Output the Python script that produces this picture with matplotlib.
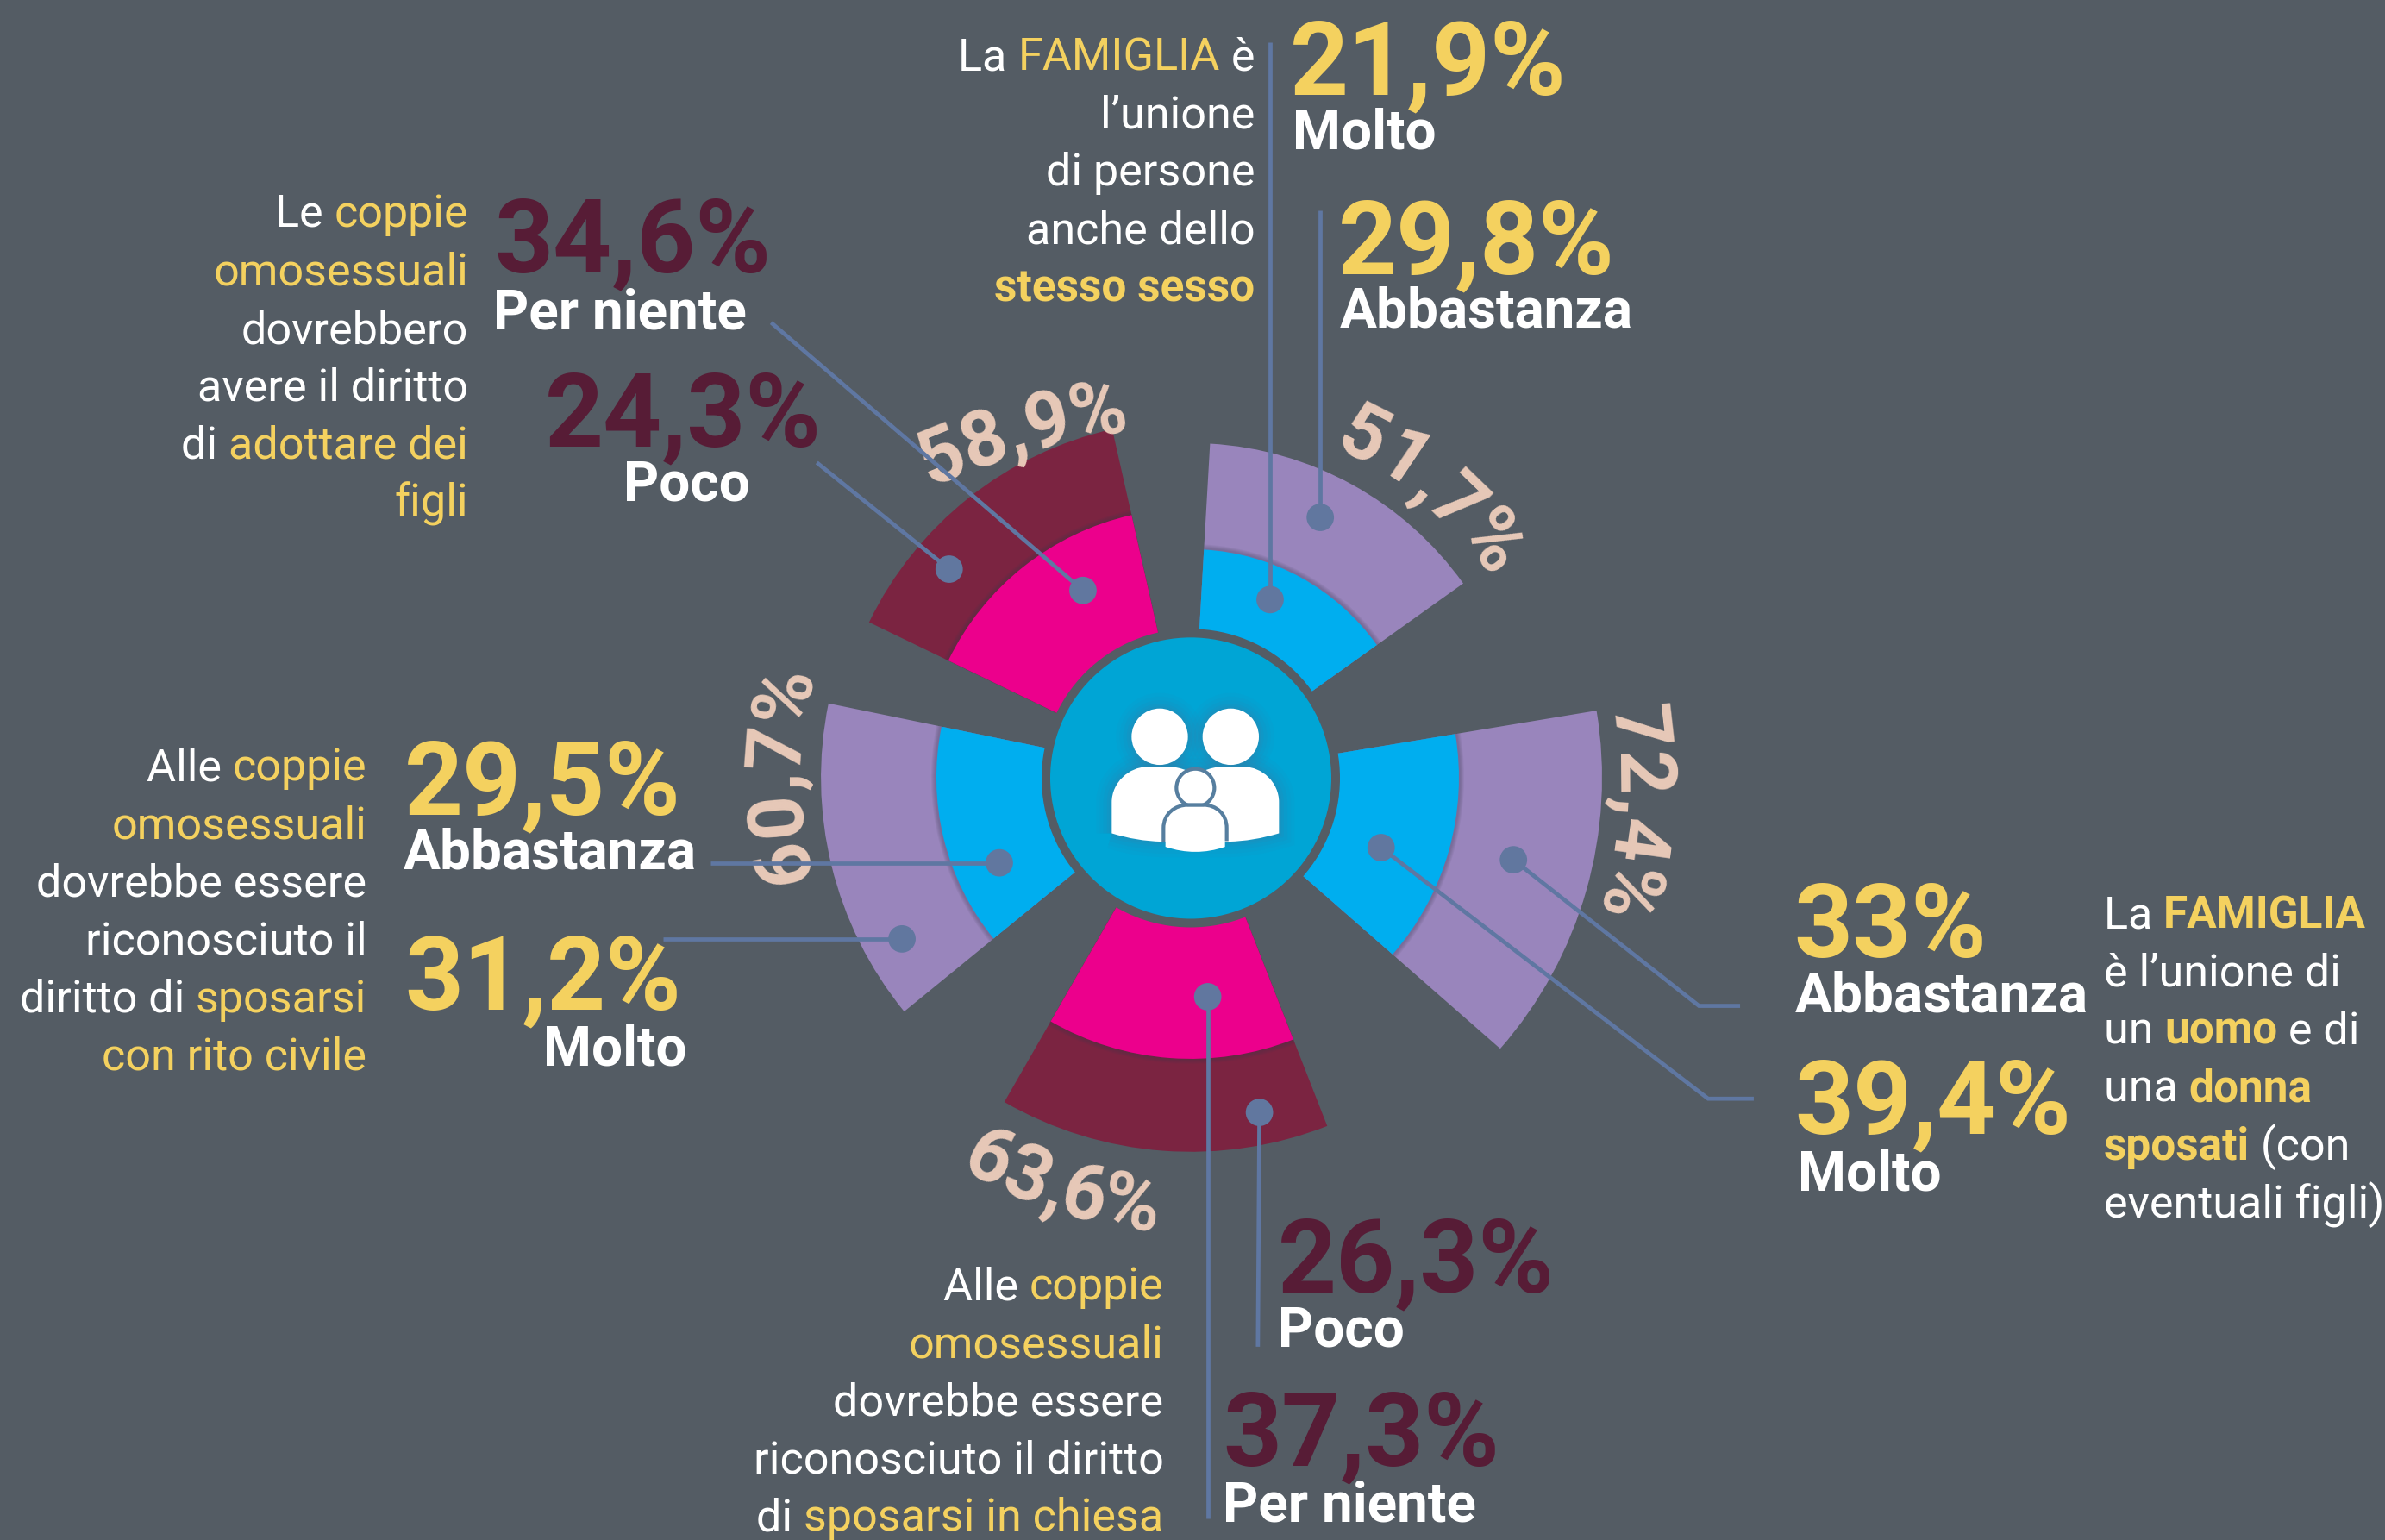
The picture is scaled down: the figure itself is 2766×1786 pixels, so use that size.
import numpy as np
import matplotlib
matplotlib.use("Agg")
import matplotlib.pyplot as plt
from matplotlib.patches import Circle, PathPatch
from matplotlib.path import Path
from matplotlib.font_manager import FontProperties

# ---------- data ----------
inner_values = [21.9, 39.4, 37.3, 29.5, 34.6]
outer_values = [29.8, 33.0, 26.3, 31.2, 24.3]
total_values = [51.7, 72.4, 63.6, 60.7, 58.9]
inner_labels = ["Molto", "Molto", "Per niente", "Abbastanza", "Per niente"]
outer_labels = ["Abbastanza", "Abbastanza", "Poco", "Molto", "Poco"]

# ---------- geometry / style ----------
W, H = 2766, 1786
S = W / 1568
CX, CY = 1381, 902
RMAX = 480
spans = [(3.3, 54.5), (80.6, 131.2), (158.6, 209.9), (230.8, 281.6), (295.8, 347.3)]
r_base = [174.6, 112.8, 173.0, 168.5, 167.0]
r_gain = [4.13, 5.03, 4.10, 4.29, 4.20]
inner_cols = ["#00AEEF", "#00AEEF", "#EC008C", "#00AEEF", "#EC008C"]
outer_cols = ["#9985BC", "#9985BC", "#7B2441", "#9985BC", "#7B2441"]
BG = "#545C64"
YEL = "#F4D15F"
WH = "#FFFFFF"
DARK = "#571C36"
PEACH = "#E8C9B8"
LINE = "#5F77A2"
DOT = "#61779F"
FONT = "Roboto"

fig = plt.figure(figsize=(W / 100, H / 100), dpi=100, facecolor=BG)

# polar layer: bars
pax = fig.add_axes([(CX - RMAX) / W, 1 - (CY + RMAX) / H, 2 * RMAX / W, 2 * RMAX / H], projection="polar")
pax.set_theta_zero_location("N")
pax.set_theta_direction(-1)
pax.set_ylim(0, RMAX)
pax.axis("off")
pax.patch.set_alpha(0)

def rad(i, v):
    return r_base[i] + r_gain[i] * v

for i, (a, b) in enumerate(spans):
    th = np.deg2rad((a + b) / 2)
    w = np.deg2rad(b - a)
    pax.bar(th, rad(i, total_values[i]) - 100, width=w, bottom=100, color=outer_cols[i], linewidth=0)
    for k in range(5):
        pax.bar(th, rad(i, inner_values[i]) + 6 - k - 100, width=w, bottom=100,
                color="#3C3C50", alpha=0.07, linewidth=0)
    pax.bar(th, rad(i, inner_values[i]) - 100, width=w, bottom=100, color=inner_cols[i], linewidth=0)

# overlay layer in reference-scaled coordinates
ax = fig.add_axes([0, 0, 1, 1], facecolor="none")
ax.set_xlim(0, 1568)
ax.set_ylim(1012, 0)
ax.axis("off")
renderer = fig.canvas.get_renderer()

def width(s, fp):
    a = renderer.get_text_width_height_descent("n" + s + "n", fp, False)[0]
    b = renderer.get_text_width_height_descent("nn", fp, False)[0]
    return (a - b) / S

def fp(size, weight):
    return FontProperties(family=FONT, size=size, weight=weight)

def fmt(v):
    return f"{v:g}".replace(".", ",") + "%"

# centre
c0 = (CX / S, CY / S)
ax.add_patch(Circle(c0, 173 / S, fc=BG, ec="none", zorder=2))
ax.add_patch(Circle(c0, 163 / S, fc="#00A5D5", ec="none", zorder=3))

def Z(x, y):
    return ((1230 + x / 3) / S, (760 + y / 3) / S)

def path(cmds):
    verts, codes = [], []
    for c in cmds:
        if c[0] == "M":
            verts.append(Z(*c[1])); codes.append(Path.MOVETO)
        elif c[0] == "L":
            verts.append(Z(*c[1])); codes.append(Path.LINETO)
        elif c[0] == "Q":
            verts += [Z(*c[1]), Z(*c[2])]; codes += [Path.CURVE3] * 2
        elif c[0] == "C":
            verts += [Z(*c[1]), Z(*c[2]), Z(*c[3])]; codes += [Path.CURVE4] * 3
    return Path(verts, codes)

adults = path([("M", (178, 618)), ("L", (178, 510)), ("C", (178, 440), (240, 387), (300, 387)),
               ("L", (380, 387)), ("C", (400, 387), (420, 392), (440, 400)), ("L", (500, 400)),
               ("C", (520, 392), (540, 387), (560, 387)), ("L", (640, 387)),
               ("C", (700, 387), (760, 440), (760, 510)), ("L", (760, 618)),
               ("Q", (670, 645), (585, 647)), ("L", (352, 647)), ("Q", (265, 645), (178, 618))])
child = path([("M", (365, 665)), ("L", (365, 600)), ("C", (365, 555), (400, 525), (445, 525)),
              ("L", (495, 525)), ("C", (540, 525), (572, 555), (572, 600)), ("L", (572, 665)),
              ("Q", (470, 700), (365, 665))])
child_edge = path([("M", (358, 650)), ("L", (358, 600)), ("C", (358, 550), (398, 519), (445, 519)),
                   ("L", (495, 519)), ("C", (542, 519), (578, 550), (578, 600)), ("L", (578, 645))])
heads = [Z(345, 282), Z(592, 282)]
for lw, al in [(26, .05), (20, .06), (14, .08), (8, .10), (4, .12)]:
    ax.add_patch(PathPatch(adults, fc="none", ec="#45789F", lw=lw, alpha=al, zorder=3.5))
    for h in heads:
        ax.add_patch(Circle(h, 98 / 3 / S, fc="none", ec="#45789F", lw=lw, alpha=al, zorder=3.5))
ax.add_patch(PathPatch(adults, fc=WH, ec="none", zorder=4))
for h in heads:
    ax.add_patch(Circle(h, 98 / 3 / S, fc=WH, ec="none", zorder=4))
ax.add_patch(Circle(Z(469, 460), 66 / 3 / S, fc=WH, ec="#567E9F", lw=3, zorder=5))
ax.add_patch(PathPatch(child, fc=WH, ec="none", zorder=5))
ax.add_patch(PathPatch(child_edge, fc="none", ec="#567E9F", lw=3, zorder=5.5))

# leaders
leaders = [
    [(835, 394), (835, 28)],
    [(868, 340), (868, 138)],
    [(995, 565), (1117, 661), (1144, 661)],
    [(908, 557), (1123, 722), (1153, 722)],
    [(794, 655), (794, 998)],
    [(828, 731), (827, 885)],
    [(657, 567), (467, 567)],
    [(593, 617), (436, 617)],
    [(712, 388), (507, 212)],
    [(624, 374), (537, 304)],
]
for pts in leaders:
    xs, ys = zip(*pts)
    ax.plot(xs, ys, color=LINE, lw=3.4, zorder=7.5, solid_capstyle="butt", solid_joinstyle="miter")
    ax.add_patch(Circle(pts[0], 9, fc=DOT, ec="none", zorder=7.6))

# big numbers + categories
NUM = fp(85.5, "bold")
CAT = fp(46, "bold")
big = [
    (inner_values[0], YEL, 848, 62, inner_labels[0], 850, 98),
    (outer_values[0], YEL, 880, 180, outer_labels[0], 881, 215),
    (inner_values[4], DARK, 325, 179, inner_labels[4], 324, 216),
    (outer_values[4], DARK, 358, 293, outer_labels[4], 410, 329),
    (inner_values[3], YEL, 266, 535, inner_labels[3], 265, 571),
    (outer_values[3], YEL, 266, 663, outer_labels[3], 357, 700),
    (outer_values[1], YEL, 1179, 629, outer_labels[1], 1180, 665),
    (inner_values[1], YEL, 1180, 745, inner_labels[1], 1182, 782),
    (outer_values[2], DARK, 840, 849, outer_labels[2], 840, 885),
    (inner_values[2], DARK, 804, 963, inner_labels[2], 804, 1000),
]
for v, col, x, y, lab, lx, ly in big:
    ax.text(x, y, fmt(v), color=col, fontproperties=NUM, ha="left", va="baseline", zorder=7)
    ax.text(lx, ly, lab, color=WH, fontproperties=CAT, ha="left", va="baseline", zorder=7)

# statements
LIGHT = fp(37.5, "normal")
SEMI = fp(37, "bold")

def runs(x, y, parts, align):
    total = sum(width(t, SEMI if st == "b" else LIGHT) for t, c, st in parts)
    cur = x - total if align == "right" else x
    for t, c, st in parts:
        p = SEMI if st == "b" else LIGHT
        ax.text(cur, y, t, color=c, fontproperties=p, ha="left", va="baseline", zorder=7)
        cur += width(t, p)

w_ = (WH, "l")
y_ = (YEL, "l")
b_ = (YEL, "b")
blocks = [
    (825, "right", [46, 84, 122, 160, 198], [
        [("La ", *w_), ("FAMIGLIA", *y_), (" è", *w_)],
        [("l’unione", *w_)],
        [("di persone", *w_)],
        [("anche dello", *w_)],
        [("stesso sesso", *b_)]]),
    (308, "right", [149, 187, 226, 263, 301, 339], [
        [("Le ", *w_), ("coppie", *y_)],
        [("omosessuali", *y_)],
        [("dovrebbero", *w_)],
        [("avere il diritto", *w_)],
        [("di ", *w_), ("adottare dei", *y_)],
        [("figli", *y_)]]),
    (241, "right", [513, 551, 589, 627, 665, 703], [
        [("Alle ", *w_), ("coppie", *y_)],
        [("omosessuali", *y_)],
        [("dovrebbe essere", *w_)],
        [("riconosciuto il", *w_)],
        [("diritto di ", *w_), ("sposarsi", *y_)],
        [("con rito civile", *y_)]]),
    (765, "right", [854, 892, 930, 968, 1006], [
        [("Alle ", *w_), ("coppie", *y_)],
        [("omosessuali", *y_)],
        [("dovrebbe essere", *w_)],
        [("riconosciuto il diritto", *w_)],
        [("di ", *w_), ("sposarsi in chiesa", *y_)]]),
    (1383, "left", [610, 648, 686, 724, 762, 800], [
        [("La ", *w_), ("FAMIGLIA", *b_)],
        [("è l’unione di", *w_)],
        [("un ", *w_), ("uomo", *b_), (" e di", *w_)],
        [("una ", *w_), ("donna", *b_)],
        [("sposati", *b_), (" (con", *w_)],
        [("eventuali figli)", *w_)]]),
]
for x, al, ys, lines in blocks:
    for y, parts in zip(ys, lines):
        runs(x, y, parts, al)

# totals set along the arcs
ARC = fp(64.5, "bold")

def arc_text(v, mid, r, clockwise=True, rot0=None, rc=None):
    s = fmt(v)
    ws = [width(ch, ARC) * S for ch in s]
    tot = sum(ws)
    sign = 1 if clockwise else -1
    rc = rc or r
    rot0 = (-mid if clockwise else 180 - mid) if rot0 is None else rot0
    t0 = np.deg2rad(mid)
    px, py = CX + r * np.sin(t0), CY - r * np.cos(t0)
    adv = -tot / 2
    u = np.deg2rad(rot0)
    tx, ty = np.cos(u), -np.sin(u)          # along the baseline, y down
    nx, ny = -ty * sign, tx * sign          # towards the curve's centre
    for ch, w in zip(s, ws):
        a = (adv + w / 2) / rc
        x = (px + rc * np.sin(a) * tx + rc * (1 - np.cos(a)) * nx) / S
        y = (py + rc * np.sin(a) * ty + rc * (1 - np.cos(a)) * ny) / S
        ax.text(x, y, ch, color=PEACH, fontproperties=ARC, rotation=rot0 - sign * np.rad2deg(a),
                rotation_mode="anchor", ha="center", va="baseline", zorder=7)
        adv += w

arc_text(total_values[0], 40, 416)
arc_text(total_values[1], 94.6, 495)
arc_text(total_values[2], 197.5, 527, clockwise=False)
arc_text(total_values[3], 270.6, 455)
arc_text(total_values[4], -26.5, 423, rot0=16, rc=900)

fig.savefig("out.png", dpi=100, facecolor=BG)
